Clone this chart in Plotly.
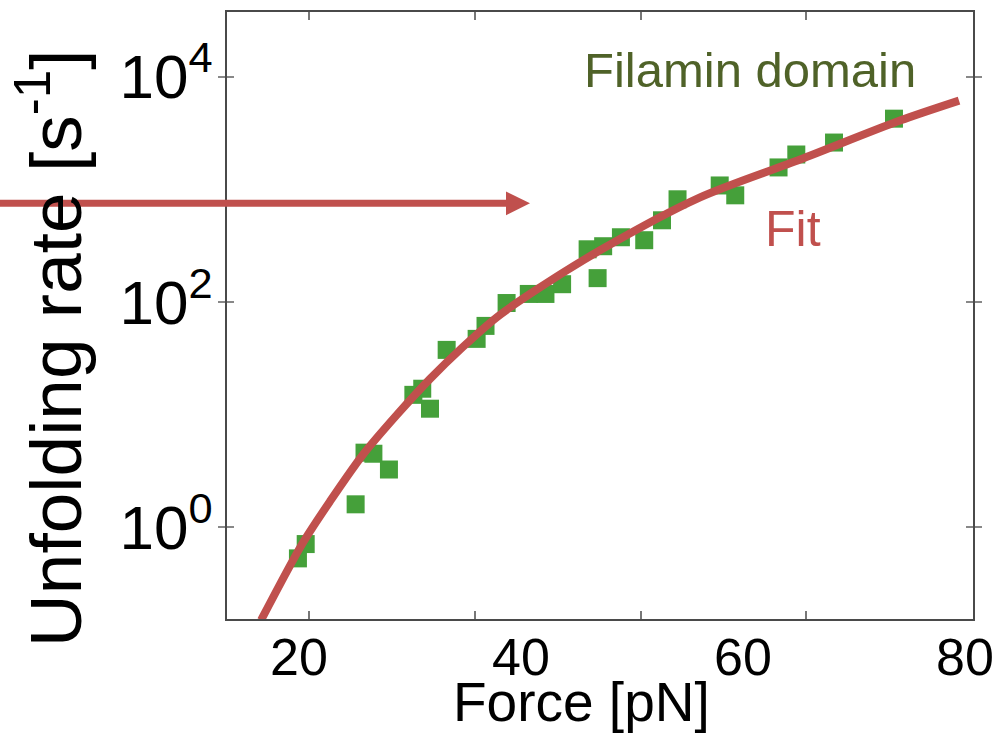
import plotly.graph_objects as go

# ---------------- data ----------------
force_pts = [19.9, 20.6, 25.1, 25.9, 26.7, 28.1, 30.3, 31.1, 31.8, 33.3, 36.0, 36.8,
             38.7, 40.7, 42.2, 43.7, 46.0, 47.4, 46.9, 49.0, 51.1, 52.7, 54.1, 57.9,
             59.3, 63.2, 64.8, 68.2, 73.6]
rate_pts = [0.53, 0.71, 1.60, 4.6, 4.5, 3.26, 15.0, 17.0, 11.3, 37.6, 47.1, 61.4,
            98, 118, 118, 144, 294, 313, 163, 376, 354, 532, 817, 1084,
            886, 1567, 2041, 2606, 4246]

fit_force = [16.58, 20.27, 22.79, 25.77, 28.83, 31.80, 34.77, 37.84, 40.81, 47.12,
             56.13, 65.14, 74.14, 79.46]
fit_rate = [0.150, 0.708, 1.70, 4.43, 10.0, 20.8, 40.0, 73.6, 118, 288,
            849, 1841, 4083, 6138]

x_tick_vals = [20, 40, 60, 80]
x_tick_text = ["20", "40", "60", "80"]
x_tick_marks = [20.9, 35.86, 50.81, 65.68]   # tick marks (not aligned with labels)
y_tick_vals = [1, 100, 10000]
y_tick_text = ["10<sup>0</sup>", "10<sup>2</sup>", "10<sup>4</sup>"]

# ---------------- layout geometry ----------------
W, H = 1004, 747
L, R, T, B = 227, 973, 10, 619
def px(x):
    return (x - L) / (R - L)
def py(y):
    return (B - y) / (B - T)

RED = "#c0504d"
GREEN = "#45a03a"
OLIVE = "#4f6228"
AXC = "#4a4a4a"

fig = go.Figure()
fig.add_trace(go.Scatter(
    x=force_pts, y=rate_pts, mode="markers",
    marker=dict(symbol="square", size=18, color=GREEN, line=dict(width=0)),
    showlegend=False, hoverinfo="skip"))
fig.add_trace(go.Scatter(
    x=fit_force, y=fit_rate, mode="lines",
    line=dict(color=RED, width=8, shape="spline", smoothing=0.8),
    showlegend=False, hoverinfo="skip", cliponaxis=True))
# invisible trace to anchor the tick-mark axis
fig.add_trace(go.Scatter(x=[fit_force[0]], y=[fit_rate[0]], xaxis="x2",
                         mode="markers", marker=dict(opacity=0), showlegend=False,
                         hoverinfo="skip"))

xr = [13.51, 80.72]
fig.update_layout(
    width=W, height=H,
    margin=dict(l=L, r=W - R, t=T, b=H - B),
    paper_bgcolor="white", plot_bgcolor="white",
    xaxis=dict(range=xr, tickvals=x_tick_vals, ticktext=x_tick_text, ticks="",
               showgrid=False, zeroline=False, showline=True, mirror=True,
               linecolor=AXC, linewidth=2, ticklabelstandoff=-8,
               tickfont=dict(family="Liberation Sans, Arial, sans-serif",
                             size=52, color="black")),
    xaxis2=dict(range=xr, overlaying="x", side="bottom", tickvals=x_tick_marks,
                showticklabels=False, ticks="inside", ticklen=8, tickwidth=2,
                tickcolor="#777", mirror="ticks", showline=False, showgrid=False,
                zeroline=False),
    yaxis=dict(type="log", range=[-0.814, 4.575], tickvals=y_tick_vals,
               ticktext=y_tick_text, ticks="inside", ticklen=7, tickwidth=2,
               tickcolor="#888", mirror="allticks",
               showgrid=False, zeroline=False, showline=True, linecolor=AXC,
               linewidth=2,
               tickfont=dict(family="Liberation Sans, Arial, sans-serif",
                             size=62, color="black")),
)

annotations = [
    dict(text="Filamin domain", x=px(750), y=py(68), xref="paper", yref="paper",
         showarrow=False, xanchor="center", yanchor="middle",
         font=dict(family="Liberation Sans, Arial, sans-serif",
                   size=49, color=OLIVE)),
    dict(text="Fit", x=px(793), y=py(228), xref="paper", yref="paper",
         showarrow=False, xanchor="center", yanchor="middle",
         font=dict(family="Liberation Sans, Arial, sans-serif",
                   size=50, color=RED)),
    dict(text="Force [pN]", x=px(581), y=py(702), xref="paper", yref="paper",
         showarrow=False, xanchor="center", yanchor="middle",
         font=dict(family="Liberation Sans, Arial, sans-serif",
                   size=55, color="black")),
    dict(text="Unfolding rate [s<sup>-1</sup>]", x=px(50), y=py(348),
         xref="paper", yref="paper", textangle=-90,
         showarrow=False, xanchor="center", yanchor="middle",
         font=dict(family="Liberation Sans, Arial, sans-serif", size=73,
                   color="black")),
]
fig.update_layout(annotations=annotations)

shapes = [
    dict(type="line", xref="paper", yref="paper", x0=px(-5), x1=px(508),
         y0=py(202), y1=py(202), line=dict(color=RED, width=7)),
    dict(type="path", xref="paper", yref="paper",
         path=f"M {px(506)} {py(190)} L {px(530)} {py(202)} L {px(506)} {py(214)} Z",
         fillcolor=RED, line=dict(color=RED, width=0)),
]
fig.update_layout(shapes=shapes)

fig.write_html("out.html")
